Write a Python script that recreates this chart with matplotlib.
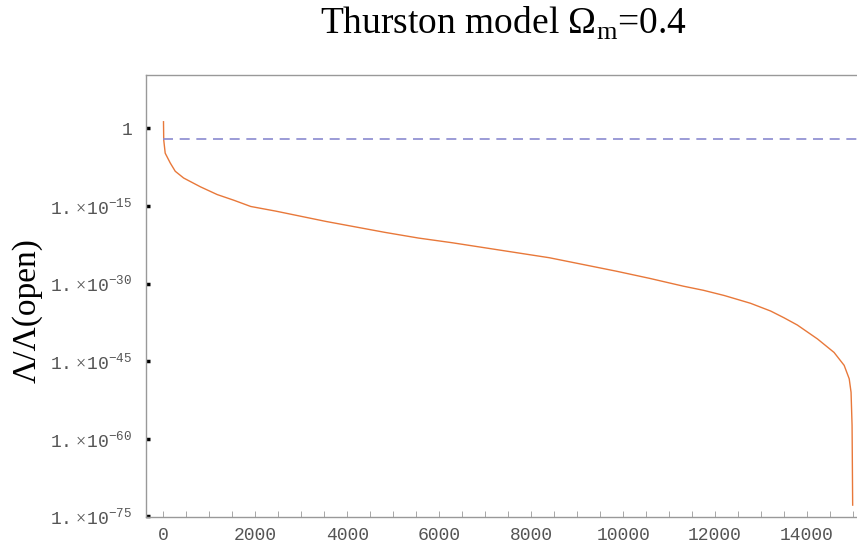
import numpy as np
import matplotlib
matplotlib.use("Agg")
import matplotlib.pyplot as plt
from matplotlib.ticker import FixedLocator, MultipleLocator

# curve: x and log10 of Lambda/Lambda(open)
x_vals = [0, 5, 37, 147, 256, 438, 803, 1169, 1532, 1898, 2445, 2992,
          3540, 4087, 4816, 5547, 6276, 6933, 7662, 8393, 9122, 9851,
          10582, 11311, 11750, 12200, 12771, 13210, 13500, 13790, 14230,
          14590, 14810, 14920, 14960, 14982, 14995]
log_ratio = [1.27, -2.25, -4.8, -6.7, -8.3, -9.6, -11.3, -12.8, -13.9,
             -15.1, -16.0, -17.0, -18.0, -18.9, -20.1, -21.2, -22.1, -23.0,
             -24.0, -25.0, -26.3, -27.6, -29.0, -30.5, -31.3, -32.3, -33.8,
             -35.3, -36.6, -38.0, -40.7, -43.3, -45.8, -48.4, -51.0, -57.4,
             -72.8]
ratio = [10.0 ** v for v in log_ratio]

open_level = 1e-2
ytick_exp = [0, -15, -30, -45, -60, -75]
xtick_vals = [0, 2000, 4000, 6000, 8000, 10000, 12000, 14000]

plt.rcParams['mathtext.fontset'] = 'custom'
plt.rcParams['mathtext.rm'] = 'Liberation Serif'
plt.rcParams['mathtext.tt'] = 'Liberation Mono'

fig = plt.figure(figsize=(8.57, 5.46), dpi=100)
ax = fig.add_axes([0.1704, 0.0531, 0.835, 0.8095])

xmin, xmax = -380, 15190
ax.plot(x_vals, ratio, color="#E8783A", lw=1.0)
ax.axhline(open_level, xmin=(0 - xmin) / (xmax - xmin), color="#8A8AD0",
           lw=1.2, dashes=(6, 4))

ax.set_yscale("log")
ax.set_xlim(xmin, xmax)
ax.set_ylim(10 ** -75.1, 10 ** 10.3)

ylabels = []
for e in ytick_exp:
    if e == 0:
        ylabels.append("1")
    else:
        ylabels.append(r"$\mathtt{1.}\!\times\!\mathtt{10}^{\mathtt{%d}}$" % e)
ax.yaxis.set_major_locator(FixedLocator([10.0 ** e for e in ytick_exp]))
ax.yaxis.set_minor_locator(FixedLocator([]))
ax.set_yticklabels(ylabels)
ax.tick_params(axis="y", which="major", direction="in", length=3, width=2.5,
               color="black", labelsize=13, labelcolor="#555555", pad=10)

ax.set_xticks(xtick_vals)
ax.xaxis.set_minor_locator(MultipleLocator(500))
ax.tick_params(axis="x", which="both", direction="in", length=4, width=0.6,
               color="#999999", labelsize=13, labelcolor="#555555", pad=7)

for lab in ax.get_xticklabels() + ax.get_yticklabels():
    lab.set_family(["Liberation Mono", "DejaVu Sans Mono"])

for side in ["left", "bottom", "top"]:
    ax.spines[side].set_color("#999999")
    ax.spines[side].set_linewidth(1.0)
ax.spines["right"].set_visible(False)

ax.set_title("Thurston model Ω$_\\mathrm{m}$=0.4", family="Liberation Serif",
             fontsize=27, pad=30)
ax.set_ylabel("Λ/Λ(open)", family="Liberation Serif", fontsize=24)
ax.yaxis.set_label_coords(-0.145, 0.468)

fig.savefig("out.png", dpi=100)
